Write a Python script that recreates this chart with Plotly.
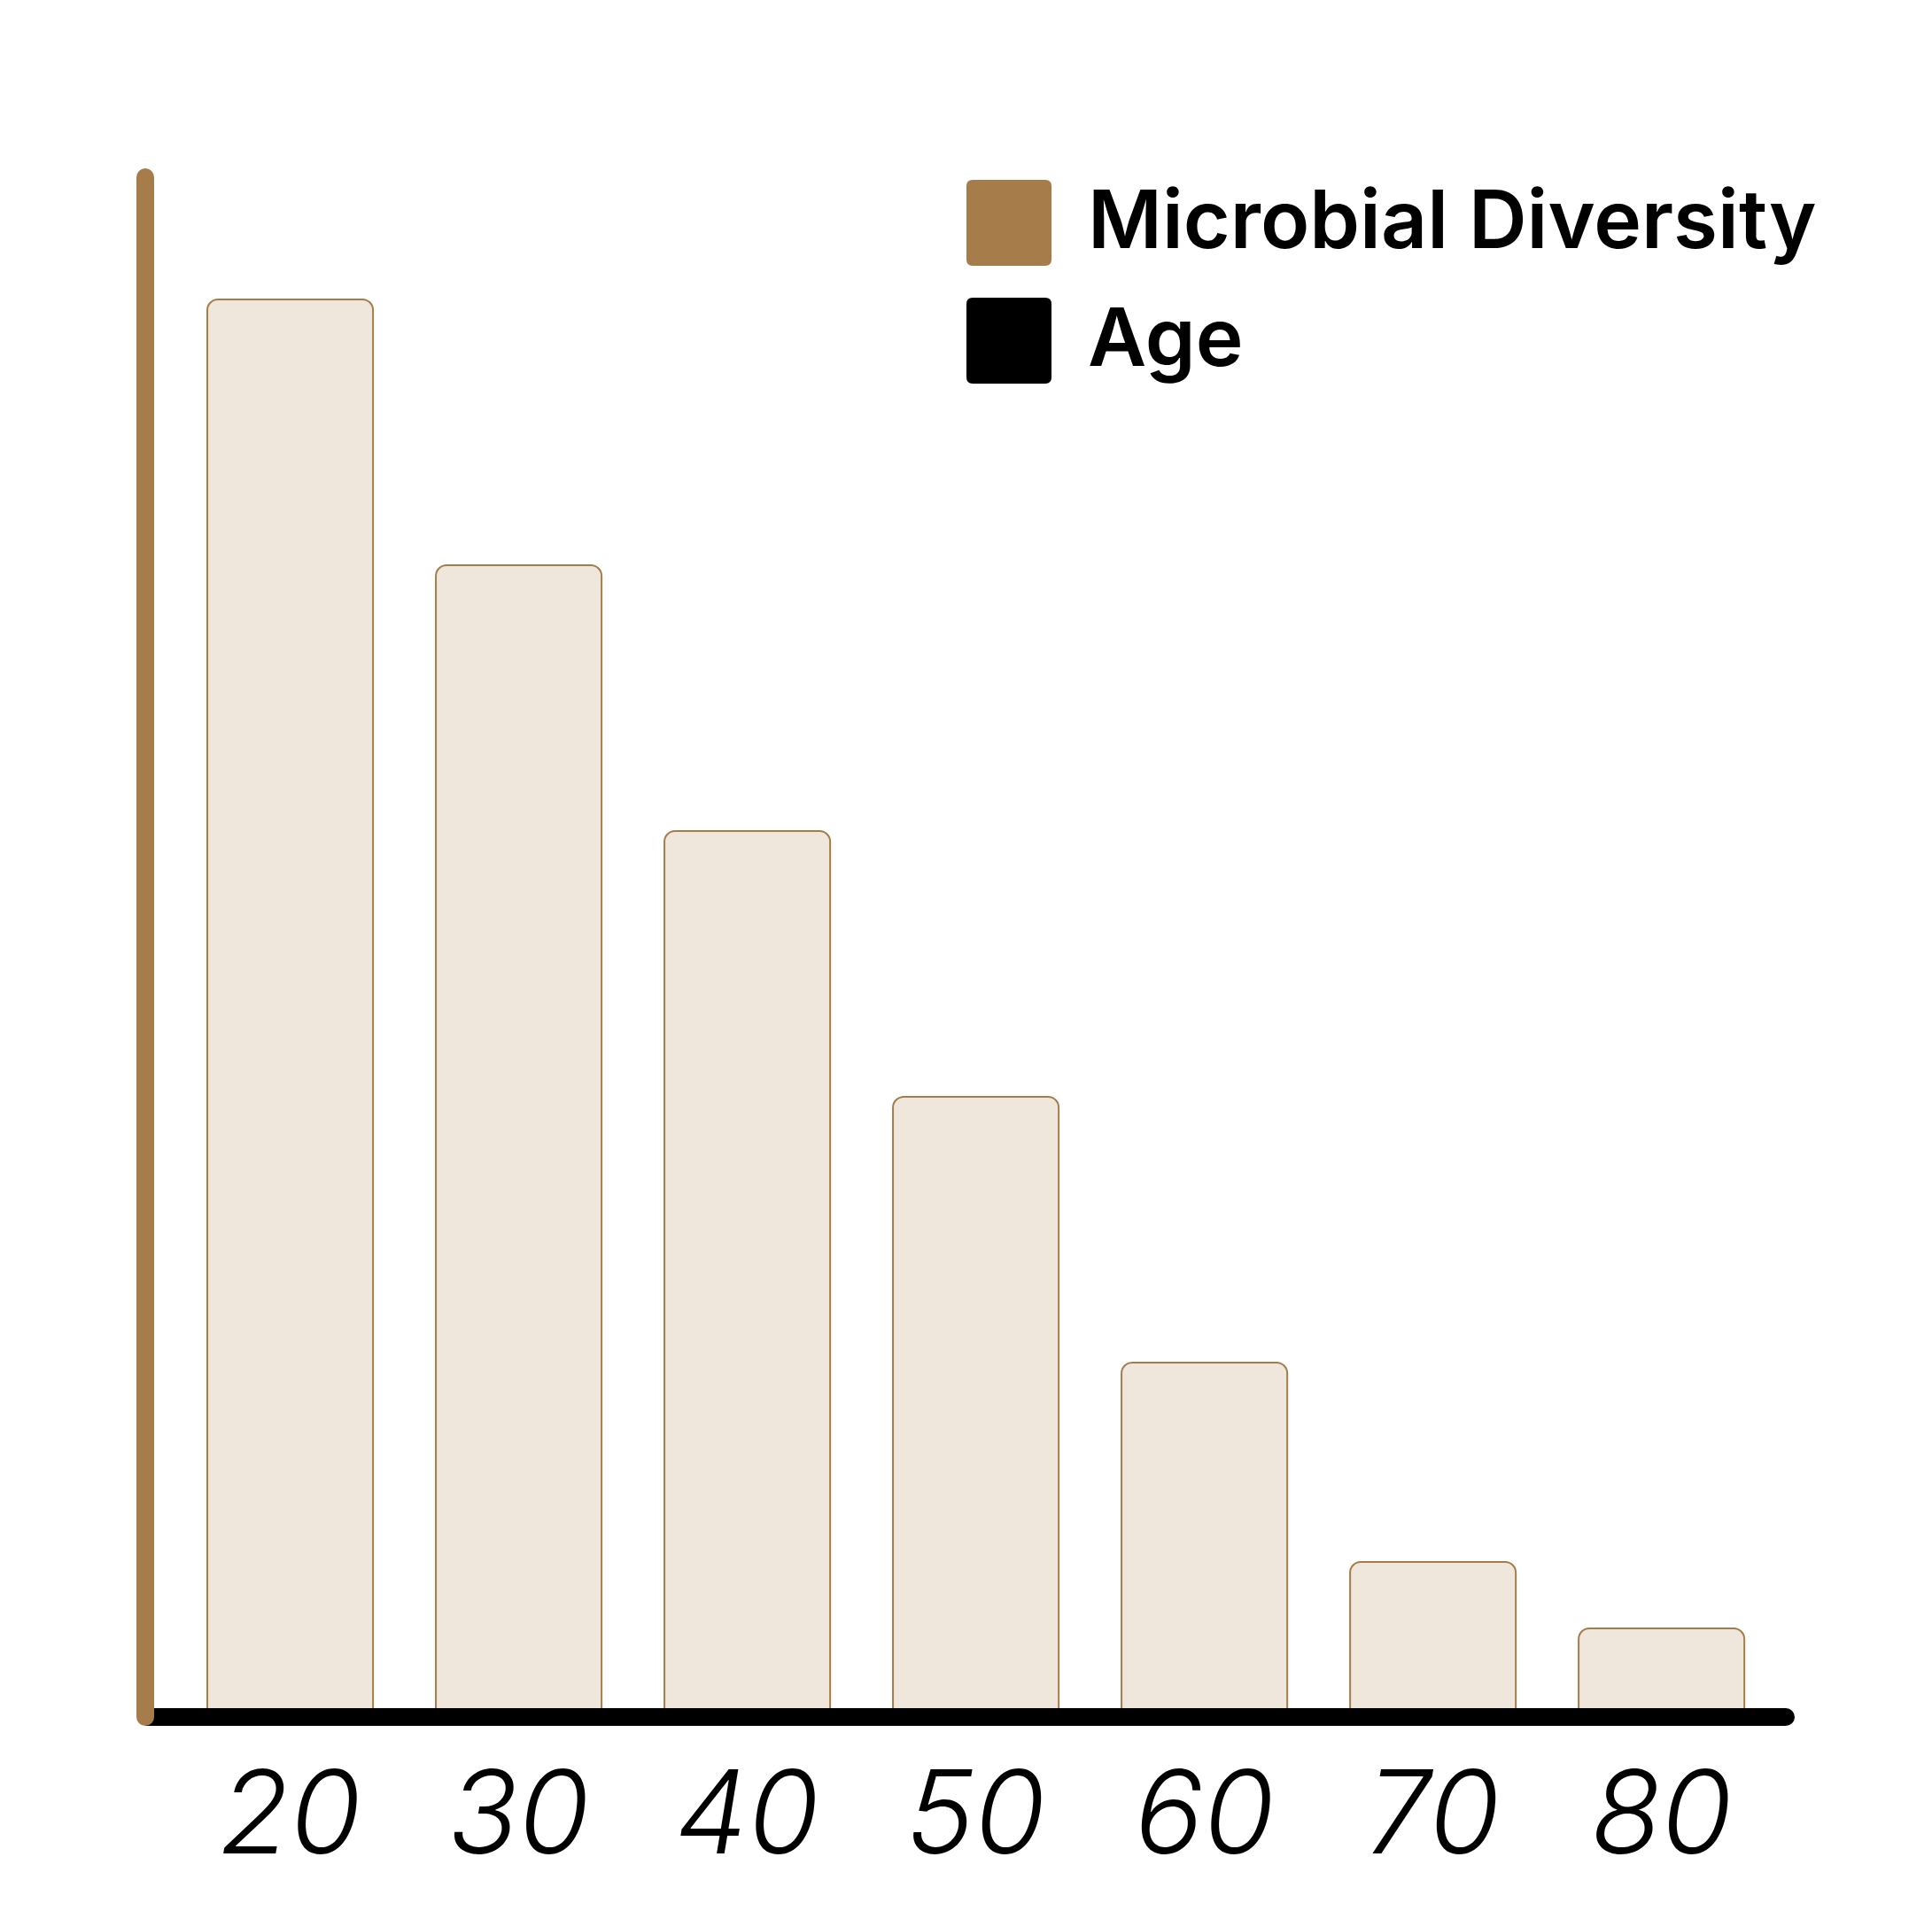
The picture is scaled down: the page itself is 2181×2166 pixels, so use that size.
import plotly.graph_objects as go

# Data
ages = ["20", "30", "40", "50", "60", "70", "80"]
diversity = [80, 65, 50, 35, 20, 8.75, 5]
legend_labels = ["Microbial Diversity", "Age"]

BROWN = "#A57C4A"
FILL = "#EFE7DB"
W, H = 2181, 2166
OFF = 8  # page body margin
ML, MR, MT, MB = 164 - OFF, 165 + OFF, 200 - OFF, 228 + OFF

fig = go.Figure()
fig.add_trace(go.Bar(
    x=ages, y=diversity,
    marker=dict(color=FILL, line=dict(color=BROWN, width=2), cornerradius=12),
    showlegend=False, hoverinfo="skip",
))

shapes = []
shapes.append(dict(type="line", xref="paper", yref="paper", x0=0, x1=1, y0=0, y1=0,
                   line=dict(color="black", width=20), layer="above"))
shapes.append(dict(type="circle", xref="paper", yref="paper", xsizemode="pixel", ysizemode="pixel",
                   xanchor=1, yanchor=0, x0=-10, x1=10, y0=-10, y1=10,
                   fillcolor="black", line=dict(width=0), layer="above"))
shapes.append(dict(type="line", xref="paper", yref="paper", x0=0, x1=0, y0=0, y1=1,
                   line=dict(color=BROWN, width=20), layer="above"))
for ya in (0, 1):
    shapes.append(dict(type="circle", xref="paper", yref="paper", xsizemode="pixel", ysizemode="pixel",
                       xanchor=0, yanchor=ya, x0=-10, x1=10, y0=-10, y1=10,
                       fillcolor=BROWN, line=dict(width=0), layer="above"))

def rounded_path(w, h, r):
    return (f"M {r},0 L {w-r},0 Q {w},0 {w},{-r} L {w},{-(h-r)} Q {w},{-h} {w-r},{-h} "
            f"L {r},{-h} Q 0,{-h} 0,{-(h-r)} L 0,{-r} Q 0,0 {r},0 Z")

pw = W - ML - MR
ph = H - MT - MB
def px2paper_x(px):
    return (px - OFF - ML) / pw
def px2paper_y(py):
    return (H - MB - (py - OFF)) / ph

legend_colors = [BROWN, "black"]
sw_tops = [203, 336]
text_mid = [247, 380]
annotations = []
for lab, col, top, tm in zip(legend_labels, legend_colors, sw_tops, text_mid):
    shapes.append(dict(type="path", xref="paper", yref="paper", xsizemode="pixel", ysizemode="pixel",
                       xanchor=px2paper_x(1091), yanchor=px2paper_y(top),
                       path=rounded_path(96, 97, 7), fillcolor=col, line=dict(width=0), layer="above"))
    annotations.append(dict(text=lab, xref="paper", yref="paper", x=px2paper_x(1226), y=px2paper_y(tm),
                            xanchor="left", yanchor="middle", showarrow=False,
                            font=dict(family="Inter", size=91, color="black", weight=600)))

n = len(ages)
fig.update_layout(
    width=W, height=H,
    margin=dict(l=ML, r=MR, t=MT, b=MB),
    paper_bgcolor="white", plot_bgcolor="white",
    bargap=0.275,
    xaxis=dict(range=[-0.634, n - 1 + 0.544], showgrid=False, zeroline=False, showline=False,
               ticks="", tickfont=dict(family="Inter", size=130, color="black", style="italic", weight=300),
               ticklabelstandoff=23),
    yaxis=dict(range=[0, 86.9], showgrid=False, zeroline=False, showline=False,
               showticklabels=False, ticks=""),
    shapes=shapes, annotations=annotations,
    showlegend=False,
)

fig.write_html("out.html")
